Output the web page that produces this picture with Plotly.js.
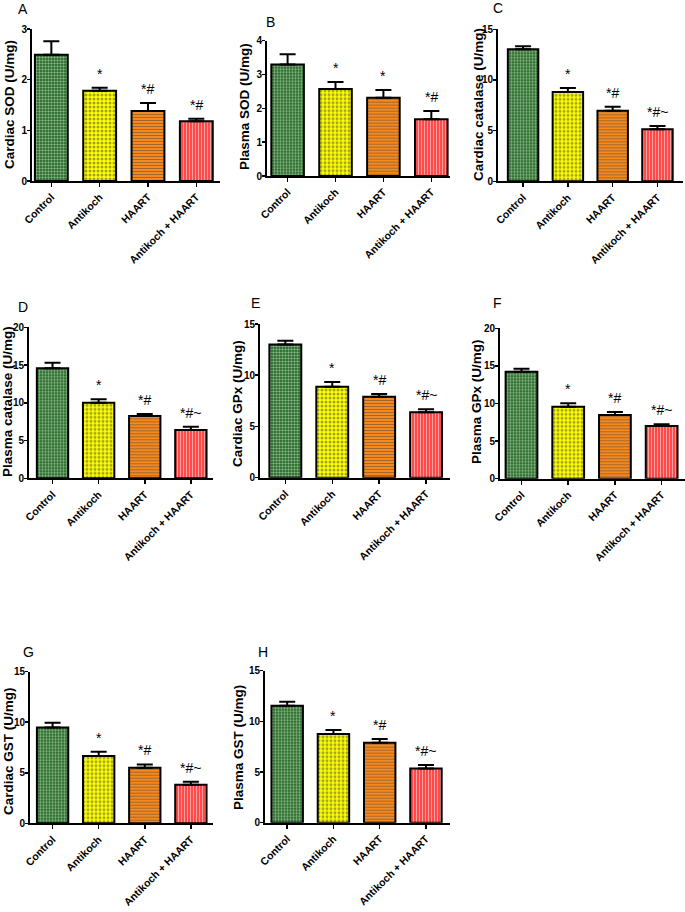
<!DOCTYPE html>
<html>
<head>
<meta charset="utf-8">
<script src="https://cdn.plot.ly/plotly-3.0.1.min.js"></script>
<style>html,body{margin:0;padding:0;background:#fff;}#chart{width:685px;height:912px;}</style>
</head>
<body>
<div id="chart"></div>
<script>
const categories = ["Control", "Antikoch", "HAART", "Antikoch + HAART"];

const panelLetters = ["A", "B", "C", "D", "E", "F", "G", "H"];
const yTitles = ["Cardiac SOD (U/mg)", "Plasma SOD (U/mg)", "Cardiac catalase (U/mg)", "Plasma catalase (U/mg)",
                 "Cardiac GPx (U/mg)", "Plasma GPx (U/mg)", "Cardiac GST (U/mg)", "Plasma GST (U/mg)"];

const cardiacSOD = [2.49, 1.78, 1.38, 1.18];
const cardiacSODErr = [0.27, 0.06, 0.16, 0.05];
const plasmaSOD = [3.30, 2.57, 2.31, 1.68];
const plasmaSODErr = [0.30, 0.21, 0.23, 0.24];
const cardiacCatalase = [13.02, 8.81, 6.96, 5.13];
const cardiacCatalaseErr = [0.30, 0.40, 0.40, 0.32];
const plasmaCatalase = [14.57, 10.02, 8.26, 6.40];
const plasmaCatalaseErr = [0.75, 0.44, 0.26, 0.44];
const cardiacGPx = [13.01, 8.88, 7.90, 6.38];
const cardiacGPxErr = [0.36, 0.46, 0.27, 0.29];
const plasmaGPx = [14.23, 9.58, 8.47, 7.01];
const plasmaGPxErr = [0.40, 0.44, 0.40, 0.22];
const cardiacGST = [9.49, 6.66, 5.50, 3.82];
const cardiacGSTErr = [0.46, 0.43, 0.33, 0.30];
const plasmaGST = [11.55, 8.75, 7.89, 5.36];
const plasmaGSTErr = [0.39, 0.39, 0.37, 0.33];

const sigA = ["", "*", "*#", "*#"];
const sigB = ["", "*", "*", "*#"];
const sigC = ["", "*", "*#", "*#~"];
const sigD = ["", "*", "*#", "*#~"];
const sigE = ["", "*", "*#", "*#~"];
const sigF = ["", "*", "*#", "*#~"];
const sigG = ["", "*", "*#", "*#~"];
const sigH = ["", "*", "*#", "*#~"];

const yTicksSOD1 = [0, 1, 2, 3];
const yTicksSOD2 = [0, 1, 2, 3, 4];
const yTicks15 = [0, 5, 10, 15];
const yTicks20 = [0, 5, 10, 15, 20];

const values = [cardiacSOD, plasmaSOD, cardiacCatalase, plasmaCatalase, cardiacGPx, plasmaGPx, cardiacGST, plasmaGST];
const errors = [cardiacSODErr, plasmaSODErr, cardiacCatalaseErr, plasmaCatalaseErr, cardiacGPxErr, plasmaGPxErr, cardiacGSTErr, plasmaGSTErr];
const sigs = [sigA, sigB, sigC, sigD, sigE, sigF, sigG, sigH];
const yTicks = [yTicksSOD1, yTicksSOD2, yTicks15, yTicks20, yTicks15, yTicks20, yTicks15, yTicks15];

// layout geometry in pixels: [axisLeft, axisRight, plotTop, plotBottom, rangeLeft, rangeRight]
const W = 685, H = 912;
const geom = [
  [32, 220, 29, 181, -0.40, 3.49],
  [267, 450, 40.7, 176, -0.43, 3.39],
  [498, 683, 29.3, 181.3, -0.56, 3.57],
  [29, 213, 327.3, 478.3, -0.51, 3.48],
  [260, 450, 324, 477.7, -0.54, 3.51],
  [500, 685, 328.3, 478.7, -0.46, 3.50],
  [30, 213, 671.7, 823.3, -0.49, 3.48],
  [265, 450, 670.7, 822.7, -0.48, 3.52]
];
// label positions [letterX, letterY, titleX, titleY]
const labelPos = [
  [23, 9, 10, 105],
  [270, 22, 244, 107],
  [498, 8, 479, 105],
  [23, 307, 7, 402],
  [255, 303, 238, 404],
  [497, 303, 476, 402],
  [28, 652, 8, 751],
  [263, 652, 238, 748]
];

const barColors = ["#136013", "#ffff00", "#ff8c1a", "#ff4040"];
const patShapes = [".", ".", "-", "|"];
const patFg = ["#042804", "#000000", "#7a3a00", "#7a1515"];
const patSize = [3, 4, 3, 3];
const patSolid = [0.5, 0.45, 0.4, 0.4];

const FAM = "Liberation Sans, Arial, sans-serif";
const b = s => "<b>" + s + "</b>";
const traces = [];
const layout = {
  width: W, height: H,
  margin: {l: 0, r: 0, t: 0, b: 0},
  paper_bgcolor: "#fff", plot_bgcolor: "rgba(0,0,0,0)",
  showlegend: false,
  annotations: []
};

for (let i = 0; i < 8; i++) {
  const g = geom[i];
  const n = i + 1;
  const xa = "x" + (n === 1 ? "" : n), ya = "y" + (n === 1 ? "" : n);
  const xk = "xaxis" + (n === 1 ? "" : n), yk = "yaxis" + (n === 1 ? "" : n);
  traces.push({
    type: "bar",
    x: [0, 1, 2, 3],
    y: values[i],
    xaxis: xa, yaxis: ya,
    width: 0.68,
    marker: {
      color: barColors,
      line: {color: "#000", width: 2},
      pattern: {shape: patShapes, fgcolor: patFg, bgcolor: barColors, size: patSize, solidity: patSolid, fillmode: "overlay"}
    },
    error_y: {type: "data", array: errors[i], arrayminus: [0, 0, 0, 0], symmetric: false, color: "#000", thickness: 2, width: 8},
    hoverinfo: "none"
  });
  layout[xk] = {
    domain: [g[0] / W, g[1] / W],
    anchor: ya,
    range: [g[4], g[5]],
    tickmode: "array", tickvals: [0, 1, 2, 3], ticktext: categories.map(b),
    tickangle: -45, tickfont: {family: FAM, size: 10.5, color: "#000"},
    showline: true, linecolor: "#000", linewidth: 2,
    ticks: "outside", ticklen: 4, tickwidth: 1.5, tickcolor: "#000",
    showgrid: false, zeroline: false, fixedrange: true
  };
  layout[yk] = {
    domain: [1 - g[3] / H, 1 - g[2] / H],
    anchor: xa,
    range: [0, yTicks[i][yTicks[i].length - 1]],
    tickmode: "array", tickvals: yTicks[i], ticktext: yTicks[i].map(v => b(v)),
    tickfont: {family: FAM, size: 10, color: "#000"},
    ticklabelstandoff: -2,
    showline: true, linecolor: "#000", linewidth: 2,
    ticks: "outside", ticklen: 3, tickwidth: 1.5, tickcolor: "#000",
    showgrid: false, zeroline: false, fixedrange: true
  };
  layout.annotations.push({
    xref: "paper", yref: "paper", x: labelPos[i][0] / W, y: 1 - labelPos[i][1] / H,
    text: panelLetters[i], showarrow: false, xanchor: "center", yanchor: "middle",
    font: {family: FAM, size: 14, color: "#000"}
  });
  layout.annotations.push({
    xref: "paper", yref: "paper", x: labelPos[i][2] / W, y: 1 - labelPos[i][3] / H,
    text: b(yTitles[i]), showarrow: false, textangle: -90, xanchor: "center", yanchor: "middle",
    font: {family: FAM, size: 13.5, color: "#000"}
  });
  for (let j = 0; j < 4; j++) {
    if (!sigs[i][j]) continue;
    layout.annotations.push({
      xref: xa, yref: ya, x: j, y: values[i][j] + errors[i][j],
      text: sigs[i][j], showarrow: false, xanchor: "center", yanchor: "bottom", yshift: 4,
      font: {family: FAM, size: 14, color: "#000"}
    });
  }
}

Plotly.newPlot("chart", traces, layout, {displayModeBar: false, staticPlot: true});
</script>
</body>
</html>
